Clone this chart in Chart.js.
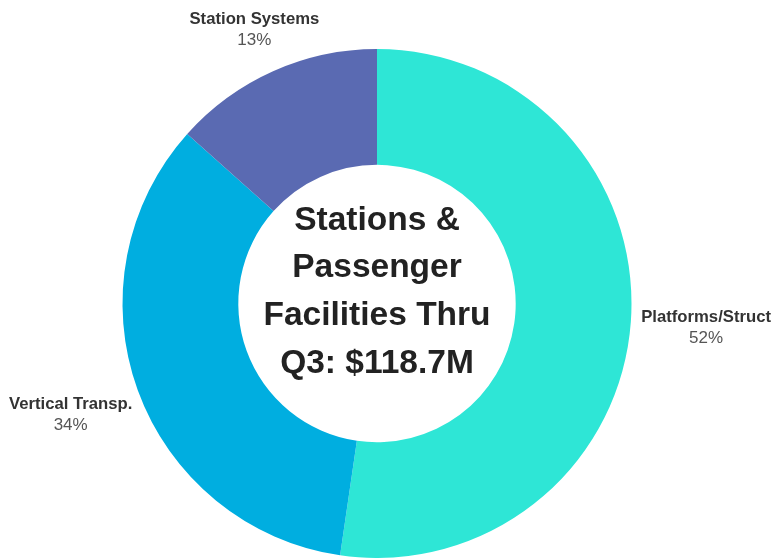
<!DOCTYPE html>
<html>
<head>
<meta charset="utf-8">
<script src="https://cdn.jsdelivr.net/npm/chart.js@4/dist/chart.umd.min.js"></script>
<style>
  html, body { margin: 0; padding: 0; background: #fff; }
  #wrap { width: 777px; height: 558px; position: relative; }
</style>
</head>
<body>
<div id="wrap"><canvas id="stationsChart"></canvas></div>
<script>
  // Spend by category, $M
  const categories = ['Platforms/Struct', 'Vertical Transp.', 'Station Systems'];
  const spendValues = [62.1, 40.7, 15.9];
  const sliceColors = ['#2EE6D6', '#00AEE0', '#5A6AB2'];
  const centerLines = ['Stations &', 'Passenger', 'Facilities Thru', 'Q3: $118.7M'];

  const FONT = '"Liberation Sans", Arial, sans-serif';

  // outside labels: name + percent on the ray through each slice's middle
  const outsideLabels = {
    id: 'outsideLabels',
    afterDatasetsDraw(chart) {
      const ctx = chart.ctx;
      const meta = chart.getDatasetMeta(0);
      const total = spendValues.reduce((a, b) => a + b, 0);
      ctx.save();
      ctx.textAlign = 'center';
      ctx.textBaseline = 'middle';
      meta.data.forEach((arc, i) => {
        const mid = (arc.startAngle + arc.endAngle) / 2;
        const c = Math.cos(mid), s = Math.sin(mid);
        ctx.font = 'bold 16.7px ' + FONT;
        const w = ctx.measureText(categories[i]).width;
        const r = arc.outerRadius + 10 + (w / 2) * Math.abs(c) + 10 * Math.abs(s);
        const x = arc.x + r * c;
        const y = arc.y + r * s;
        ctx.fillStyle = '#333';
        ctx.fillText(categories[i], x, y - 10);
        ctx.font = '17px ' + FONT;
        ctx.fillStyle = '#555';
        ctx.fillText(Math.round(spendValues[i] / total * 100) + '%', x, y + 11);
      });
      ctx.restore();
    }
  };

  const centerText = {
    id: 'centerText',
    afterDatasetsDraw(chart) {
      const ctx = chart.ctx;
      const arc = chart.getDatasetMeta(0).data[0];
      const lineH = 47.7;
      ctx.save();
      ctx.font = 'bold 33.5px ' + FONT;
      ctx.fillStyle = '#222';
      ctx.textAlign = 'center';
      ctx.textBaseline = 'alphabetic';
      const first = arc.y - 74;
      centerLines.forEach((line, i) => {
        ctx.fillText(line, arc.x, first + i * lineH);
      });
      ctx.restore();
    }
  };

  new Chart(document.getElementById('stationsChart'), {
    type: 'doughnut',
    data: {
      labels: categories,
      datasets: [{
        data: spendValues,
        backgroundColor: sliceColors,
        borderWidth: 0
      }]
    },
    options: {
      responsive: true,
      maintainAspectRatio: false,
      animation: false,
      cutout: '54.5%',
      layout: { padding: { top: 49, bottom: 0, left: 0, right: 23 } },
      plugins: {
        legend: { display: false },
        tooltip: { enabled: false }
      }
    },
    plugins: [outsideLabels, centerText]
  });
</script>
</body>
</html>
